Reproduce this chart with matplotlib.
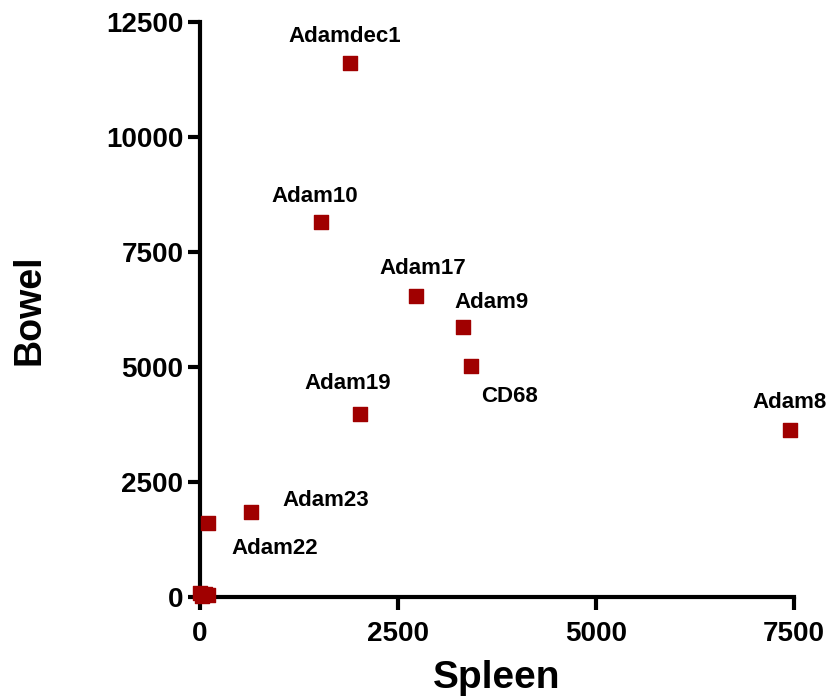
import numpy as np
import matplotlib.pyplot as plt

plt.rcParams['font.family'] = ['Liberation Sans', 'DejaVu Sans']
plt.rcParams['font.weight'] = 'bold'

# data
genes = ['Adamdec1', 'Adam10', 'Adam17', 'Adam9', 'CD68', 'Adam19',
         'Adam8', 'Adam23', 'Adam22', '', '', '', '']
spleen = [1890, 1530, 2730, 3320, 3420, 2020, 7450, 640, 100, 0, 60, 20, 100]
bowel = [11600, 8150, 6550, 5860, 5030, 3980, 3640, 1850, 1600, 80, 60, 20, 40]
# label offsets in pixels
offsets = [(-5, 27), (-6, 26), (7, 27), (29, 25), (39, -31), (-12, 30),
           (0, 27), (75, 11), (67, -25), (0, 0), (0, 0), (0, 0), (0, 0)]

xticks = [0, 2500, 5000, 7500]
yticks = [0, 2500, 5000, 7500, 10000, 12500]

fig = plt.figure(figsize=(8.36, 6.97), dpi=100)
ax = fig.add_axes([200/836, 1-597/697, 594/836, 575/697])

ax.scatter(spleen, bowel, marker='s', s=110, color='#a00000', clip_on=False, zorder=3)
for name, x, y, off in zip(genes, spleen, bowel, offsets):
    if name:
        ax.annotate(name, (x, y), xytext=off, textcoords='offset pixels',
                    ha='center', va='center', fontsize=16, fontweight='bold')

ax.set_xlim(0, 7500)
ax.set_ylim(0, 12500)
ax.set_xticks(xticks)
ax.set_yticks(yticks)
ax.spines['top'].set_visible(False)
ax.spines['right'].set_visible(False)
for s in ['left', 'bottom']:
    ax.spines[s].set_linewidth(3)
ax.tick_params(width=3, length=9, labelsize=20)
ax.tick_params(axis='x', pad=8)
ax.tick_params(axis='y', pad=3)
for lab in ax.get_xticklabels() + ax.get_yticklabels():
    lab.set_fontweight('bold')

ax.set_xlabel('Spleen', fontsize=28, fontweight='bold', labelpad=10)
ax.set_ylabel('Bowel', fontsize=27, fontweight='bold', labelpad=42)

fig.savefig('out.png', dpi=100)
